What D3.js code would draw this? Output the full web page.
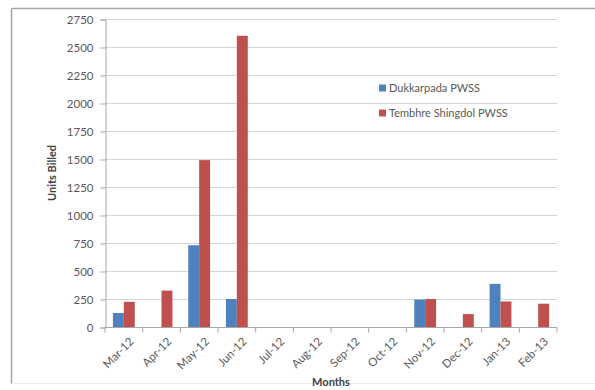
<!DOCTYPE html>
<html>
<head>
<meta charset="utf-8">
<script src="https://cdn.jsdelivr.net/npm/d3@7/dist/d3.min.js"></script>
<style>
  html, body { margin: 0; padding: 0; background: #fff; }
  svg { display: block; }
</style>
</head>
<body>
<svg id="chart" width="595" height="390"></svg>
<script>
// Monthly units billed for two piped water supply schemes
const months = ["Mar-12","Apr-12","May-12","Jun-12","Jul-12","Aug-12","Sep-12","Oct-12","Nov-12","Dec-12","Jan-13","Feb-13"];
const seriesNames = ["Dukkarpada PWSS", "Tembhre Shingdol PWSS"];
const dukkarpada = [125, 0, 730, 250, 0, 0, 0, 0, 245, 0, 385, 0];
const tembhre = [225, 325, 1490, 2600, 0, 0, 0, 0, 250, 115, 228, 208];
const yTicks = [0, 250, 500, 750, 1000, 1250, 1500, 1750, 2000, 2250, 2500, 2750];
const colors = ["#4f81bd", "#c0504d"];

const svg = d3.select("#chart");
const font = "Lato, 'Open Sans', sans-serif";
const textColor = "#595959";

// Chart frame
svg.append("line").attr("x1", 11.5).attr("y1", 8.5).attr("x2", 595).attr("y2", 8.5)
  .attr("stroke", "#a6a6a6").attr("stroke-width", 1.5);
svg.append("line").attr("x1", 11.5).attr("y1", 8.5).attr("x2", 11.5).attr("y2", 384)
  .attr("stroke", "#a6a6a6").attr("stroke-width", 1.5);
svg.append("line").attr("x1", 11.5).attr("y1", 383.5).attr("x2", 595).attr("y2", 383.5)
  .attr("stroke", "#ececec").attr("stroke-width", 1);

const plot = { left: 105, right: 557, top: 19, bottom: 327 };

const x = d3.scaleBand().domain(months).range([plot.left, plot.right]).paddingInner(0.42).paddingOuter(0.21);
const xs = d3.scaleBand().domain([0, 1]).range([0, x.bandwidth()]);
const y = d3.scaleLinear().domain([0, 2750]).range([plot.bottom, plot.top]);

// Horizontal gridlines
svg.append("g").selectAll("line").data(yTicks.filter(d => d > 0)).join("line")
  .attr("x1", plot.left).attr("x2", plot.right)
  .attr("y1", d => Math.round(y(d)) + 0.5).attr("y2", d => Math.round(y(d)) + 0.5)
  .attr("stroke", "#d4d4d4").attr("stroke-width", 1);

// Y axis
const yAxis = svg.append("g").attr("transform", `translate(${plot.left + 0.5},0.5)`)
  .call(d3.axisLeft(y).tickValues(yTicks).tickSize(5).tickPadding(7).tickFormat(d3.format("d")));
yAxis.select(".domain").attr("stroke", "#a6a6a6");
yAxis.selectAll(".tick line").attr("stroke", "#a6a6a6");
yAxis.selectAll(".tick text").attr("font-family", font).attr("font-size", 11.5).attr("fill", textColor);

// Bars
const groups = svg.append("g").selectAll("g").data(months).join("g")
  .attr("transform", d => `translate(${x(d)},0)`);
[dukkarpada, tembhre].forEach((vals, s) => {
  groups.append("rect")
    .attr("x", xs(s))
    .attr("width", xs.bandwidth())
    .attr("y", (d, i) => y(vals[i]))
    .attr("height", (d, i) => y(0) - y(vals[i]))
    .attr("fill", colors[s]);
});

// X axis with ticks between categories
const xg = svg.append("g").attr("transform", `translate(0,${plot.bottom + 0.5})`);
xg.append("line").attr("x1", plot.left).attr("x2", plot.right).attr("stroke", "#a6a6a6");
const step = x.step();
xg.selectAll("line.tk").data(d3.range(months.length + 1)).join("line").attr("class", "tk")
  .attr("x1", i => plot.left + i * (plot.right - plot.left) / months.length)
  .attr("x2", i => plot.left + i * (plot.right - plot.left) / months.length)
  .attr("y1", 0).attr("y2", 5).attr("stroke", "#a6a6a6");
xg.selectAll("text").data(months).join("text")
  .attr("transform", d => `translate(${x(d) + x.bandwidth() / 2 + 5},${9}) rotate(-45)`)
  .attr("text-anchor", "end")
  .attr("dy", "0.7em")
  .attr("font-family", font).attr("font-size", 11.5).attr("fill", textColor)
  .text(d => d);

// Axis titles
svg.append("text")
  .attr("transform", `translate(56,${(plot.top + plot.bottom) / 2}) rotate(-90)`)
  .attr("text-anchor", "middle")
  .attr("font-family", font).attr("font-size", 11).attr("font-weight", "bold").attr("fill", "#404040")
  .text("Units Billed");
svg.append("text")
  .attr("x", (plot.left + plot.right) / 2).attr("y", 386)
  .attr("text-anchor", "middle")
  .attr("font-family", font).attr("font-size", 11).attr("font-weight", "bold").attr("fill", "#404040")
  .text("Months");

// Legend
const legend = svg.append("g").selectAll("g").data(seriesNames).join("g")
  .attr("transform", (d, i) => `translate(379,${88 + i * 25})`);
legend.append("rect").attr("x", 0).attr("y", -3.5).attr("width", 7).attr("height", 7)
  .attr("fill", (d, i) => colors[i]);
legend.append("text").attr("x", 10).attr("y", 0).attr("dy", "0.35em")
  .attr("font-family", font).attr("font-size", 11).attr("fill", textColor)
  .text(d => d);
</script>
</body>
</html>
